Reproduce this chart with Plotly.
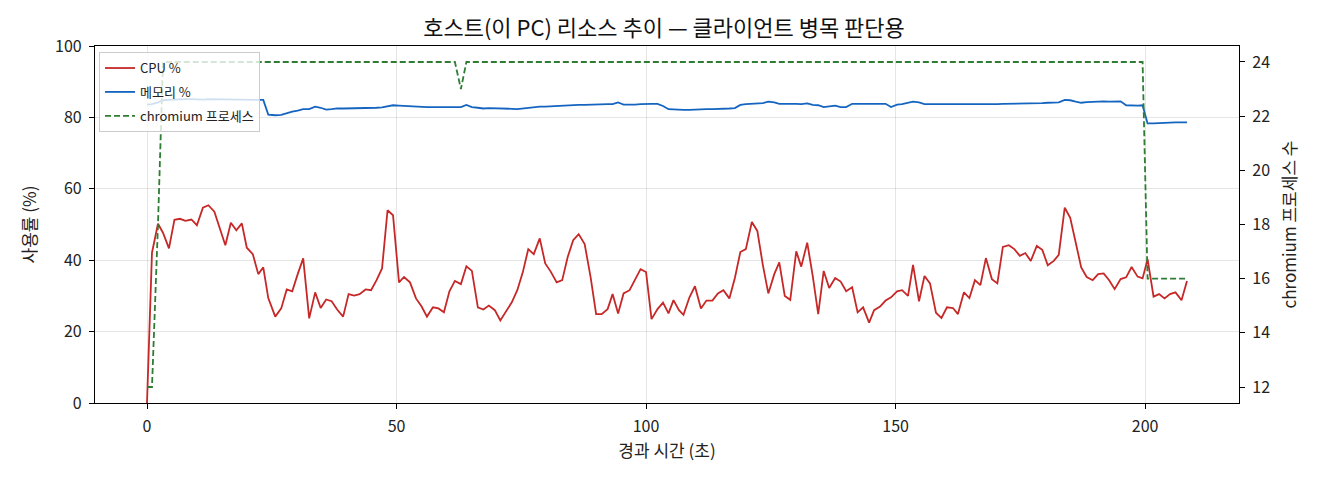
import plotly.graph_objects as go

# 경과 시간 (초) - 샘플 시점
elapsed = [
    0, 1.0, 2.2, 3.2, 4.4, 5.5, 6.6, 7.7, 8.9, 10.0, 11.2, 12.3, 13.5, 14.5, 15.7,
    16.8, 17.9, 19.0, 20.0, 21.2, 22.3, 23.3, 24.3, 25.7, 26.9, 28.0, 29.1, 30.2,
    31.3, 32.5, 33.7, 34.8, 35.9, 37.0, 38.1, 39.3, 40.4, 41.5, 42.6, 43.8, 44.9,
    46.0, 47.1, 48.2, 49.3, 50.5, 51.5, 52.7, 53.9, 55.0, 56.1, 57.3, 58.4, 59.5,
    60.6, 61.7, 62.9, 64.0, 65.1, 66.3, 67.4, 68.5, 69.7, 70.8, 71.9, 73.1, 74.2,
    75.3, 76.4, 77.5, 78.7, 79.8, 80.9, 82.1, 83.2, 84.3, 85.4, 86.5, 87.7, 88.9,
    90.0, 91.1, 92.3, 93.3, 94.4, 95.5, 96.7, 97.8, 98.9, 100.0, 101.1, 102.3,
    103.4, 104.5, 105.5, 106.6, 107.5, 108.7, 109.8, 111.0, 112.1, 113.3, 114.4,
    115.5, 116.7, 117.8, 118.9, 120.0, 121.2, 122.3, 123.4, 124.5, 125.7, 126.7,
    127.8, 128.9, 130.1, 131.1, 132.3, 133.4, 134.5, 135.6, 136.7, 137.9, 139.0,
    140.1, 141.3, 142.4, 143.5, 144.7, 145.7, 146.9, 148.0, 149.1, 150.3, 151.3,
    152.5, 153.5, 154.7, 155.8, 156.9, 158.1, 159.2, 160.3, 161.5, 162.5, 163.7,
    164.8, 165.9, 167.0, 168.1, 169.3, 170.4, 171.5, 172.7, 173.8, 174.9, 176.0,
    177.1, 178.3, 179.4, 180.5, 181.7, 182.7, 183.9, 185.0, 186.1, 187.2, 188.3,
    189.5, 190.6, 191.7, 192.8, 193.9, 195.1, 196.2, 197.3, 198.5, 199.5, 200.5,
    201.7, 202.8, 203.9, 205.0, 206.1, 207.3, 208.4,
]

cpu_pct = [
    0, 42.1, 50.2, 47.7, 43.3, 51.3, 51.6, 51.0, 51.4, 49.8, 54.7, 55.4, 53.6, 49.1, 44.2,
    50.5, 48.4, 50.3, 43.5, 41.7, 36.1, 38.0, 29.4, 24.2, 26.5, 31.8, 31.3, 36.1,
    40.5, 23.7, 31.0, 26.6, 29.0, 28.5, 26.2, 24.2, 30.5, 30.1, 30.5, 31.8, 31.6,
    34.4, 37.7, 54.0, 52.6, 33.8, 35.3, 33.8, 29.3, 27.1, 24.2, 26.8, 26.5, 25.4,
    31.3, 34.2, 33.3, 38.3, 37.0, 26.8, 26.2, 27.3, 26.0, 23.1, 25.7, 28.2, 31.6,
    36.6, 43.1, 41.7, 46.1, 39.1, 36.8, 33.8, 34.4, 40.9, 45.6, 47.3, 44.5, 35.2,
    24.9, 24.9, 26.3, 30.5, 25.1, 30.7, 31.6, 34.4, 37.5, 36.7, 23.5, 26.3,
    28.1, 25.1, 28.8, 26.0, 24.7, 29.6, 32.7, 26.5, 28.7, 28.7, 30.7,
    31.6, 29.3, 35.0, 42.3, 43.1, 50.7, 48.2, 38.7, 30.7, 36.1, 39.4,
    30.0, 28.9, 42.5, 38.2, 44.9, 35.6, 24.9, 37.0, 32.2, 35.0, 34.0,
    31.3, 32.4, 25.4, 26.8, 22.5, 26.0, 27.0, 28.7, 29.6, 31.3, 31.6,
    30.0, 38.7, 28.5, 35.6, 33.5, 25.3, 23.8, 26.8, 26.6, 24.9, 31.0,
    29.4, 34.4, 33.0, 40.6, 34.7, 33.5, 43.7, 44.2, 43.1, 41.2, 42.0,
    39.8, 44.0, 42.9, 38.6, 39.8, 41.5, 54.7, 51.9, 44.7, 38.0, 35.3,
    34.4, 36.1, 36.3, 34.4, 31.9, 34.7, 35.2, 38.1, 35.4, 34.9, 40.3,
    29.8, 30.5, 29.3, 30.5, 31.0, 28.8, 34.2,
]

mem_pct = [
    83.6, 83.7, 84.2, 84.8, 84.9, 85.0, 85.0, 85.1, 85.1, 85.0, 85.0, 85.1, 85.1, 85.1, 85.0,
    85.0, 85.1, 85.0, 85.0, 85.0, 85.0, 84.9, 80.8, 80.6, 80.7, 81.2, 81.6, 81.9,
    82.3, 82.3, 83.0, 82.7, 82.2, 82.3, 82.5, 82.5, 82.5, 82.6, 82.6, 82.5, 82.5,
    82.7, 82.8, 83.0, 83.4, 83.3, 83.2, 83.1, 83.0, 83.0, 82.9, 82.9, 82.9, 82.8,
    82.8, 82.9, 82.9, 83.5, 82.9, 82.7, 82.5, 82.6, 82.6, 82.5, 82.4, 82.4, 82.3,
    82.5, 82.7, 82.9, 83.0, 83.0, 83.1, 83.2, 83.3, 83.3, 83.4, 83.5, 83.5, 83.6,
    83.6, 83.6, 83.7, 83.7, 84.2, 83.6, 83.5, 83.6, 83.7, 83.8, 83.8, 83.8,
    83.2, 82.3, 82.2, 82.2, 82.1, 82.1, 82.2, 82.2, 82.3, 82.3, 82.3,
    82.4, 82.5, 82.6, 83.5, 83.7, 83.8, 83.9, 84.0, 84.4, 84.2, 83.8,
    83.7, 83.8, 83.8, 83.7, 83.9, 83.5, 83.4, 82.9, 83.1, 83.3, 82.9,
    82.9, 83.8, 83.8, 83.8, 83.8, 83.8, 83.8, 83.8, 82.9, 83.6, 83.7,
    84.0, 84.4, 84.2, 83.7, 83.7, 83.7, 83.7, 83.6, 83.6, 83.7, 83.7,
    83.5, 83.5, 83.6, 83.7, 83.7, 83.7, 83.8, 83.8, 83.8, 83.9, 83.9,
    84.0, 84.0, 84.0, 84.1, 84.1, 84.2, 84.9, 84.8, 84.4, 84.1, 84.3,
    84.4, 84.5, 84.5, 84.4, 84.5, 84.5, 83.4, 83.3, 83.3, 83.4, 78.3,
    78.3, 78.4, 78.5, 78.5, 78.6, 78.6, 78.6,
]

# chromium 프로세스 수 (초반 12 -> 24, 63초 근처 한 번 23, 200초 이후 16)
chromium_cnt = [12, 12, 18] + [24] * 53 + [23] + [24] * 122 + [16] * 8

cpu_color = "#c62828"
mem_color = "#1565c0"
chr_color = "#2e7d32"
font_kr = "Noto Sans CJK KR"

fig = go.Figure()
fig.add_trace(go.Scatter(x=elapsed, y=cpu_pct, mode="lines", name="CPU %",
                         legendgroup="a", line=dict(color=cpu_color, width=1.8)))
fig.add_trace(go.Scatter(x=elapsed, y=mem_pct, mode="lines", name="메모리 %",
                         legendgroup="b", line=dict(color=mem_color, width=1.8)))
fig.add_trace(go.Scatter(x=elapsed, y=chromium_cnt, mode="lines", name="chromium 프로세스",
                         legendgroup="c", yaxis="y2",
                         line=dict(color=chr_color, width=1.8, dash="6px,3px")))

axis_common = dict(showline=True, linecolor="black", linewidth=1.2,
                   ticks="outside", ticklen=5, tickcolor="black", zeroline=False,
                   tickfont=dict(size=16), ticklabelstandoff=4)

# 페이지 body margin(8px) 만큼 줄여서 1320x480 창에 맞춤
fig.update_layout(
    width=1312, height=472,
    margin=dict(l=87, r=81, t=38, b=77),
    paper_bgcolor="white", plot_bgcolor="white",
    font=dict(family=font_kr, size=16, color="#222"),
    title=dict(text="호스트(이 PC) 리소스 추이 — 클라이언트 병목 판단용",
               x=0.5, xanchor="center", yref="container", y=0.958, yanchor="middle",
               font=dict(size=22, color="#111")),
    xaxis=dict(range=[-10.42, 218.82], tickvals=[0, 50, 100, 150, 200],
               showgrid=True, gridcolor="rgba(0,0,0,0.1)", gridwidth=1, mirror=True,
               title=dict(text="경과 시간 (초)", font=dict(size=17), standoff=6),
               **axis_common),
    yaxis=dict(range=[0, 100], tickvals=[0, 20, 40, 60, 80, 100],
               showgrid=True, gridcolor="rgba(0,0,0,0.1)", gridwidth=1, mirror=True,
               title=dict(text="사용률 (%)", font=dict(size=17), standoff=14),
               **axis_common),
    yaxis2=dict(overlaying="y", side="right", range=[11.41, 24.59],
                tickvals=[12, 14, 16, 18, 20, 22, 24], showgrid=False,
                title=dict(text="chromium 프로세스 수", font=dict(size=17), standoff=14),
                **axis_common),
    legend=dict(x=0.0035, y=0.983, xanchor="left", yanchor="top",
                bgcolor="rgba(255,255,255,0.8)", bordercolor="#cccccc", borderwidth=1,
                font=dict(size=13), tracegroupgap=4, itemwidth=30),
    showlegend=True,
)

fig.write_html("out.html")
